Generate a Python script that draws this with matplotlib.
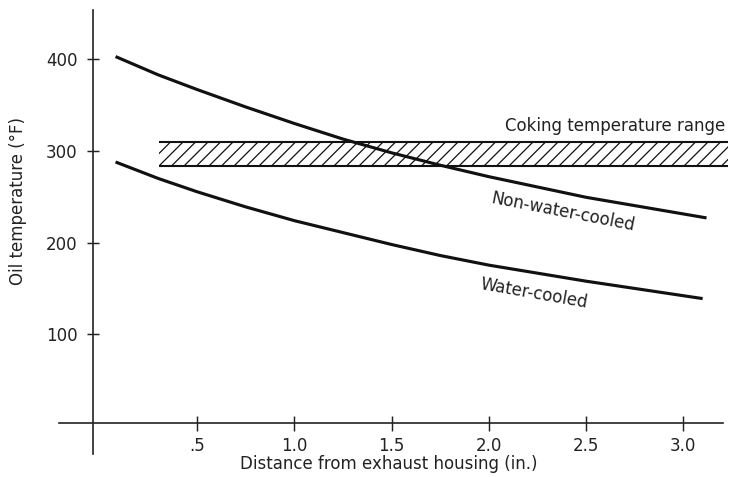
import matplotlib
matplotlib.use("Agg")
import matplotlib.pyplot as plt

plt.rcParams['font.family'] = ['DejaVu Sans']
plt.rcParams['hatch.linewidth'] = 0.6

# Oil temperature along the distance from the exhaust housing
distance_hot = [0.08, 0.3, 0.5, 0.75, 1.0, 1.25, 1.5, 1.75, 2.0, 2.5, 3.12]
temp_hot = [403, 383, 367, 348, 330, 313, 298, 284.5, 272, 249.5, 227]
distance_cool = [0.08, 0.3, 0.5, 0.75, 1.0, 1.25, 1.5, 1.75, 2.0, 2.5, 3.1]
temp_cool = [288, 270, 255.5, 239, 224, 211, 198, 186, 175.5, 158, 139]

# Coking temperature band
coking_x = [0.305, 3.23]
coking_low, coking_high = 284, 310

x_ticks = [0.5, 1.0, 1.5, 2.0, 2.5, 3.0]
x_tick_labels = ['.5', '1.0', '1.5', '2.0', '2.5', '3.0']
y_ticks = [100, 200, 300, 400]
y_tick_labels = ['100', '200', '300', '400']

INK = '#111111'
TEXT = '#222222'
DPI = 150
W, H = 730, 477

fig = plt.figure(figsize=(W / DPI, H / DPI), dpi=DPI)
ax = fig.add_axes([0, 0, 1, 1])
ax.set_xlim(-0.5144, 3.2407)
ax.set_ylim(-55.6, 464.7)

# Cross-shaped axes
for side in ('top', 'right'):
    ax.spines[side].set_visible(False)
ax.spines['left'].set_position(('axes', 93 / W))
ax.spines['bottom'].set_position(('axes', 1 - 422.7 / H))
ax.spines['left'].set_bounds(-30.5, 453.8)
ax.spines['bottom'].set_bounds(-0.211, 3.205)
for side in ('left', 'bottom'):
    ax.spines[side].set_linewidth(0.8)
    ax.spines[side].set_color(TEXT)

ax.set_xticks(x_ticks)
ax.set_xticklabels(x_tick_labels)
ax.set_yticks(y_ticks)
ax.set_yticklabels(y_tick_labels)
ax.tick_params(axis='x', direction='inout', length=7.2, width=0.7, pad=3.3,
               labelsize=8, colors=TEXT)
ax.tick_params(axis='y', direction='inout', length=6.2, width=0.7, pad=4.4,
               labelsize=8, colors=TEXT)

ax.set_xlabel('Distance from exhaust housing (in.)', fontsize=8, color=TEXT)
ax.set_ylabel('Oil temperature (°F)', fontsize=8, color=TEXT)
ax.xaxis.set_label_coords(388.5 / W, 1 - 455 / H)
ax.yaxis.set_label_coords(27 / W, 1 - 201 / H)

# Hatched coking band
ax.fill_between(coking_x, coking_low, coking_high, facecolor='none',
                edgecolor=INK, hatch='////', linewidth=0)
ax.hlines([coking_low, coking_high], coking_x[0], coking_x[1],
          colors=INK, linewidth=1.0)
ax.text(3.215, 327, 'Coking temperature range', ha='right', va='center',
        fontsize=8, color=TEXT)

# Temperature curves
ax.plot(distance_hot, temp_hot, color=INK, linewidth=1.5,
        solid_capstyle='butt', solid_joinstyle='round')
ax.plot(distance_cool, temp_cool, color=INK, linewidth=1.5,
        solid_capstyle='butt', solid_joinstyle='round')

ax.text(2.38, 233, 'Non-water-cooled', rotation=-11, ha='center',
        va='center', fontsize=8, color=TEXT)
ax.text(2.23, 145, 'Water-cooled', rotation=-10, ha='center',
        va='center', fontsize=8, color=TEXT)

fig.savefig('out.png', dpi=DPI, facecolor='white')
